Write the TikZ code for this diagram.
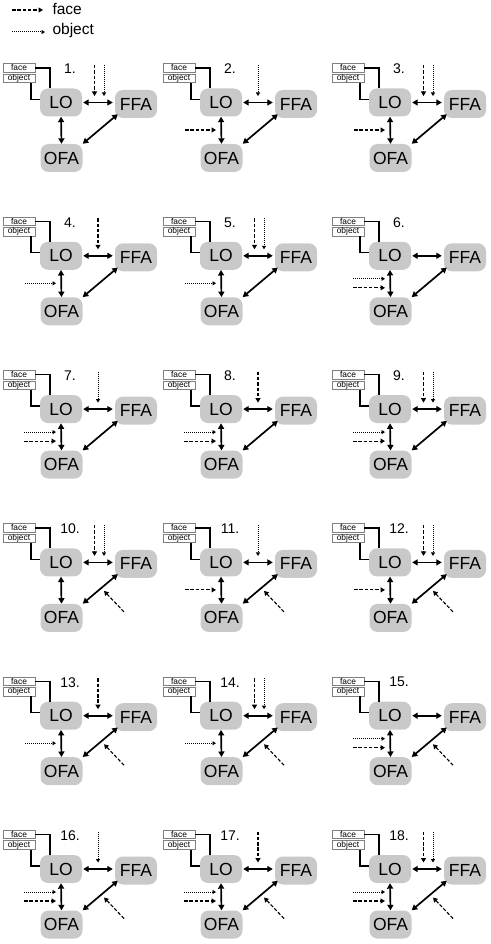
\documentclass[tikz,border=0pt]{standalone}
\usepackage{fontspec}
\setmainfont{Liberation Sans}
\usetikzlibrary{arrows.meta,positioning}

\tikzset{
  area/.style={fill=gray!42, rounded corners=8pt, minimum width=42pt, minimum height=28pt,
    inner sep=0pt, font=\fontsize{17.5}{17.5}\selectfont},
  tagbox/.style={draw=gray, fill=white, line width=0.6pt, minimum width=32pt, minimum height=8.5pt,
    inner sep=0pt, font=\fontsize{8.4}{8.4}\selectfont},
  link/.style={line width=1.7pt, {Triangle[length=5.5pt,width=6pt]}-{Triangle[length=5.5pt,width=6pt]}},
  wire/.style={line width=1.3pt},
  faceinput/.style={line width=1.1pt, dash pattern=on 3.5pt off 1.8pt, -{Triangle[length=4.5pt,width=5pt]}},
  objinput/.style={line width=1pt, dash pattern=on 1pt off 1pt, -{Triangle[length=3.5pt,width=4pt]}},
}

% #1 number, #2/#3 shift, #4 top input, #5 left input (0 none, 1 object, 2 face, 3 both), #6 OFA-FFA input
\newcommand{\brainpanel}[6]{%
  \begin{scope}[shift={(#2,#3)}]
    \node[area] (LO) at (61,102.5) {LO};
    \node[area] (FFA) at (136,104) {FFA};
    \node[area] (OFA) at (61.5,158) {OFA};
    \node[tagbox] (face) at (19,68) {face};
    \node[tagbox] (object) at (19,78.5) {object};
    \node[font=\fontsize{14}{14}\selectfont] (num) at (70,69) {#1.};
    % Task lines
    \draw[wire] (face.east) -| ([xshift=-11pt]LO.north);
    \draw[wire] ([xshift=12pt]object.south) |- ([yshift=3pt]LO.west);
    % Connections
    \draw[link, shorten <=1pt, shorten >=2pt] (LO.east) -- (LO.east -| FFA.west);
    \draw[link] (LO.south) -- (OFA.north);
    \draw[link] (OFA.north east) -- ([shift={(3pt,4pt)}]FFA.south west);
    % Input on LO-FFA
    \ifcase#4
    \or \draw[objinput] (98,65) coordinate (tin) -- (98,96);
    \or \draw[faceinput] (98,65) coordinate (tin) -- (98,96);
    \or \draw[faceinput] (94.5,65) coordinate (tin) -- (94.5,96);
        \draw[objinput] (104,65) coordinate (tin2) -- (104,96);
    \fi
    % Input on LO-OFA
    \ifcase#5
    \or \draw[objinput] (25,130) coordinate (lin) -- (56,130);
    \or \draw[faceinput] (25,130) coordinate (lin) -- (56,130);
    \or \draw[objinput] (24,125.5) coordinate (lin) -- (56,125.5);
        \draw[faceinput] (24,134.5) coordinate (lin2) -- (56,134.5);
    \fi
    % Input on OFA-FFA
    \ifnum#6=1
      \draw[faceinput] (124,152) coordinate (din) -- (104,131);
    \fi
  \end{scope}
}

\begin{document}
\begin{tikzpicture}[x=1pt, y=-1pt]
  \useasboundingbox (0,0) rectangle (490,944);

  % --- Legend ---
  \node[anchor=west, font=\fontsize{15.5}{15.5}\selectfont] (facekey) at (49,9) {face};
  \node[anchor=west, font=\fontsize{15.5}{15.5}\selectfont] (objkey) at (49,30) {object};
  \coordinate (facestart) at (12,10);
  \coordinate (objstart) at (12,32);
  \draw[faceinput] (facestart) -- ([xshift=-6pt]facestart -| facekey.west);
  \draw[objinput] (objstart) -- ([xshift=-4pt]objstart -| objkey.west);

  % --- Panels ---
  \foreach \n/\cx/\ry/\t/\l/\d in {
      1/0/0/3/0/0, 2/160/0/1/2/0, 3/329/0/3/2/0,
      4/0/153.3/2/1/0, 5/160/153.3/3/1/0, 6/329/153.3/0/3/0,
      7/0/306.6/1/3/0, 8/160/306.6/2/3/0, 9/329/306.6/3/3/0,
      10/0/459.9/3/0/1, 11/160/459.9/1/2/1, 12/329/459.9/3/2/1,
      13/0/613.2/2/1/1, 14/160/613.2/3/1/1, 15/329/613.2/0/3/1,
      16/0/766.5/1/3/1, 17/160/766.5/2/3/1, 18/329/766.5/3/3/1}
    \brainpanel{\n}{\cx}{\ry}{\t}{\l}{\d};
\end{tikzpicture}
\end{document}
